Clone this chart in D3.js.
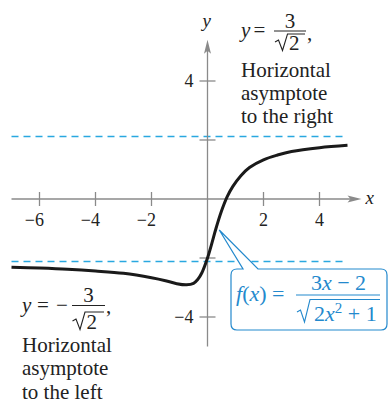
<!DOCTYPE html>
<html>
<head>
<meta charset="utf-8">
<script src="https://cdn.jsdelivr.net/npm/d3@7"></script>
<style>
body { margin: 0; background: #fff; }
svg text { font-family: "Liberation Serif", "Times New Roman", "DejaVu Serif", serif; }
</style>
</head>
<body>
<script>
var width = 388, height = 404;

// ticks and asymptotes
var xTicks = [-6, -4, -2, 2, 4];
var yTicks = [-4, -2, 2, 4];
var yLabelTicks = [-4, 4];
var asymptotes = [2.12, -2.12];

// points
var curveX = [-7, -6, -5, -4, -3, -2, -1.5, -1.1, -0.75, -0.5, -0.35, -0.2, 0, 0.15, 0.3, 0.5, 0.7, 0.9, 1.2, 1.5, 2, 2.5, 3, 4, 5];
var curveY = [-2.31, -2.34, -2.38, -2.44, -2.52, -2.67, -2.77, -2.87, -2.91, -2.86, -2.73, -2.5, -2.0, -1.52, -1.01, -0.41, 0.07, 0.42, 0.80, 1.07, 1.33, 1.49, 1.61, 1.74, 1.82];

var axisColor = "#8a8a8a";
var dashColor = "#29a8e0";
var blue = "#2389cd";
var serif = "'Liberation Serif', 'Times New Roman', 'DejaVu Serif', serif";

var svg = d3.select("body").append("svg")
    .attr("width", width)
    .attr("height", height)
    .attr("font-family", serif);

var x = d3.scaleLinear().domain([-7, 5.5]).range([11.5, 361.5]);
var y = d3.scaleLinear().domain([-5, 5.4]).range([346.5, 39.7]);
var fmt = d3.format("");

// asymptote dashed lines
svg.selectAll(".asym")
    .data(asymptotes)
    .enter().append("line")
        .attr("x1", x(-7)).attr("x2", x(5))
        .attr("y1", function(d) { return y(d); })
        .attr("y2", function(d) { return y(d); })
        .attr("stroke", dashColor)
        .attr("stroke-width", 1.5)
        .attr("stroke-dasharray", "7,5");

// axes
var axes = svg.append("g").attr("stroke", axisColor).attr("stroke-width", 1.3);
axes.append("line")
    .attr("x1", x(-7)).attr("x2", x(5.3))
    .attr("y1", y(0)).attr("y2", y(0));
axes.append("line")
    .attr("x1", x(0)).attr("x2", x(0))
    .attr("y1", y(-5)).attr("y2", y(5.2));

// arrow heads
var xa = x(5.5), ya = y(0);
svg.append("path")
    .attr("d", "M" + xa + "," + ya + "L" + (xa - 14) + "," + (ya - 3.5) + "L" + (xa - 11) + "," + ya + "L" + (xa - 14) + "," + (ya + 3.5) + "Z")
    .attr("fill", axisColor);
var xb = x(0), yb = y(5.4);
svg.append("path")
    .attr("d", "M" + xb + "," + yb + "L" + (xb - 3.5) + "," + (yb + 14) + "L" + xb + "," + (yb + 11) + "L" + (xb + 3.5) + "," + (yb + 14) + "Z")
    .attr("fill", axisColor);

// ticks
axes.selectAll(".xt")
    .data(xTicks)
    .enter().append("line")
        .attr("x1", function(d) { return x(d); })
        .attr("x2", function(d) { return x(d); })
        .attr("y1", y(0) - 7).attr("y2", y(0) + 7);
axes.selectAll(".yt")
    .data(yTicks)
    .enter().append("line")
        .attr("y1", function(d) { return y(d); })
        .attr("y2", function(d) { return y(d); })
        .attr("x1", x(0) - 8).attr("x2", x(0) + 8);

// tick labels
svg.selectAll(".xl")
    .data(xTicks)
    .enter().append("text")
        .attr("x", function(d) { return x(d) + 4.5; })
        .attr("y", y(0) + 27)
        .attr("text-anchor", "end")
        .attr("font-size", 18)
        .attr("font-family", serif)
        .attr("fill", "#222")
        .text(function(d) { return fmt(d); });
svg.selectAll(".yl")
    .data(yLabelTicks)
    .enter().append("text")
        .attr("x", x(0) - 14)
        .attr("y", function(d) { return y(d) + 6; })
        .attr("text-anchor", "end")
        .attr("font-size", 18)
        .attr("font-family", serif)
        .attr("fill", "#222")
        .text(function(d) { return fmt(d); });

svg.append("text").attr("x", x(5.5) + 4).attr("y", y(0) + 5)
    .attr("font-size", 19).attr("font-style", "italic").attr("fill", "#222").text("x");
svg.append("text").attr("x", x(0) - 5).attr("y", 27)
    .attr("font-size", 19).attr("font-style", "italic").attr("fill", "#222").text("y");

// curve
var pts = curveX.map(function(d, i) { return [d, curveY[i]]; });
var line = d3.line()
    .x(function(d) { return x(d[0]); })
    .y(function(d) { return y(d[1]); })
    .curve(d3.curveCatmullRom.alpha(0.5));
svg.append("path")
    .datum(pts)
    .attr("d", line)
    .attr("fill", "none")
    .attr("stroke", "#1a1a1a")
    .attr("stroke-width", 3);

// annotation helper
function txt(g, px, py, s, opts) {
    opts = opts || {};
    return g.append("text")
        .attr("x", px).attr("y", py)
        .attr("font-size", opts.size || 21)
        .attr("font-style", opts.italic ? "italic" : null)
        .attr("text-anchor", opts.anchor || "start")
        .attr("fill", opts.fill || "#222")
        .text(s);
}

// right asymptote label
var rightNote = svg.append("g");
txt(rightNote, 241, 37, "y", {italic: true});
txt(rightNote, 253.5, 37, "=");
rightNote.append("line").attr("x1", 274).attr("x2", 306).attr("y1", 31).attr("y2", 31)
    .attr("stroke", "#222").attr("stroke-width", 1);
txt(rightNote, 290, 27.5, "3", {anchor: "middle"});
rightNote.append("path").attr("d", "M275,42L278.5,40L282.5,50.5L287.5,34L305,34")
    .attr("fill", "none").attr("stroke", "#222").attr("stroke-width", 1.1);
txt(rightNote, 289, 49.5, "2");
txt(rightNote, 307, 40, ",");
txt(rightNote, 241, 77, "Horizontal");
txt(rightNote, 241, 100, "asymptote");
txt(rightNote, 241, 123, "to the right");

// left asymptote label
var leftNote = svg.append("g");
txt(leftNote, 22, 312, "y", {italic: true});
txt(leftNote, 37, 312, "=");
txt(leftNote, 56, 312, "\u2212");
leftNote.append("line").attr("x1", 72).attr("x2", 105).attr("y1", 305.5).attr("y2", 305.5)
    .attr("stroke", "#222").attr("stroke-width", 1);
txt(leftNote, 88.5, 302, "3", {anchor: "middle"});
leftNote.append("path").attr("d", "M72.5,321L76,319L80,329.5L85,312L104,312")
    .attr("fill", "none").attr("stroke", "#222").attr("stroke-width", 1.1);
txt(leftNote, 86.5, 328.5, "2");
txt(leftNote, 106, 313, ",");
txt(leftNote, 22, 352, "Horizontal");
txt(leftNote, 22, 375, "asymptote");
txt(leftNote, 22, 399, "to the left");

// callout
var tipX = x(0.42), tipY = y(-1.05);
var bx0 = 231, bx1 = 387, by0 = 269, by1 = 330, r = 6;
var call = svg.append("g");
call.append("path")
    .attr("d", "M" + (bx0 + r) + "," + by0 +
        "L243," + by0 + "L" + tipX + "," + tipY + "L258," + by0 +
        "L" + (bx1 - r) + "," + by0 + "Q" + bx1 + "," + by0 + " " + bx1 + "," + (by0 + r) +
        "L" + bx1 + "," + (by1 - r) + "Q" + bx1 + "," + by1 + " " + (bx1 - r) + "," + by1 +
        "L" + (bx0 + r) + "," + by1 + "Q" + bx0 + "," + by1 + " " + bx0 + "," + (by1 - r) +
        "L" + bx0 + "," + (by0 + r) + "Q" + bx0 + "," + by0 + " " + (bx0 + r) + "," + by0 + "Z")
    .attr("fill", "#fff")
    .attr("stroke", blue)
    .attr("stroke-width", 1.2);

var lhs = call.append("text").attr("x", 236).attr("y", 301)
    .attr("font-size", 22).attr("fill", blue);
lhs.append("tspan").attr("font-style", "italic").text("f");
lhs.append("tspan").text("(");
lhs.append("tspan").attr("font-style", "italic").text("x");
lhs.append("tspan").text(") =");

call.append("line").attr("x1", 296).attr("x2", 380).attr("y1", 295).attr("y2", 295)
    .attr("stroke", blue).attr("stroke-width", 1.1);
var num = call.append("text").attr("x", 338.5).attr("y", 290)
    .attr("font-size", 22).attr("fill", blue).attr("text-anchor", "middle");
num.append("tspan").text("3");
num.append("tspan").attr("font-style", "italic").text("x");
num.append("tspan").text(" \u2212 2");

call.append("path").attr("d", "M297,312L300.5,310L304.5,322L310,299.5L380,299.5")
    .attr("fill", "none").attr("stroke", blue).attr("stroke-width", 1.1);
var den = call.append("text").attr("x", 314).attr("y", 321)
    .attr("font-size", 22).attr("fill", blue);
den.append("tspan").text("2");
den.append("tspan").attr("font-style", "italic").text("x");
den.append("tspan").attr("font-size", 15).attr("dy", -8).text("2");
den.append("tspan").attr("dy", 8).text(" + 1");
</script>
</body>
</html>
